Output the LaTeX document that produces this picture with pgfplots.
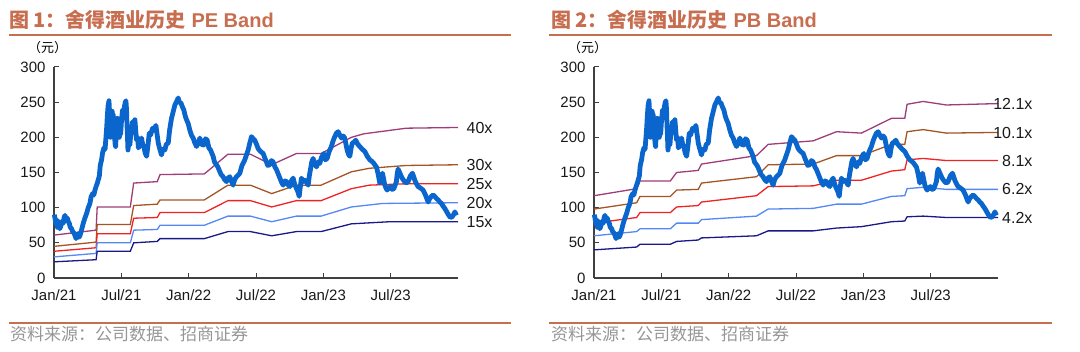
\documentclass[border=0pt]{standalone}
\usepackage{pgfplots}
\usepackage{pgfplotstable}
\pgfplotsset{compat=1.18}
\usepackage{fontspec}
\setmainfont{Liberation Sans}
\newfontfamily\cjk{Noto Sans CJK SC}
\definecolor{titlec}{RGB}{200,110,80}
\definecolor{srcgray}{RGB}{150,150,150}
\definecolor{priceblue}{RGB}{10,102,205}
\definecolor{bandpurple}{RGB}{160,60,120}
\definecolor{bandbrown}{RGB}{165,85,35}
\definecolor{bandred}{RGB}{240,35,35}
\definecolor{bandlblue}{RGB}{85,135,245}
\definecolor{bandnavy}{RGB}{25,25,135}

\pgfplotstableread{
m p
0.03 90
0.10 84
0.18 76
0.25 82
0.30 72
0.38 78
0.45 80
0.52 70
0.59 73
0.70 80
0.83 78
0.90 86
0.98 89
1.08 84
1.19 85
1.28 80
1.36 78
1.45 72
1.57 70
1.66 66
1.78 64
1.88 60
1.96 56
2.05 61
2.14 63
2.22 58
2.31 60
2.45 68
2.61 78
2.75 85
2.91 92
3.05 100
3.20 106
3.30 115
3.44 120
3.55 118
3.65 125
3.75 130
3.86 135
3.95 140
4.04 145
4.12 160
4.24 168
4.33 178
4.45 185
4.55 183
4.63 200
4.70 215
4.75 230
4.82 245
4.90 252
4.95 235
4.99 220
5.03 200
5.07 210
5.13 225
5.19 237
5.24 225
5.28 232
5.34 215
5.40 200
5.45 190
5.49 187
5.56 210
5.64 227
5.70 220
5.76 215
5.82 200
5.88 210
5.94 205
6.00 220
6.05 230
6.11 239
6.20 235
6.29 245
6.35 250
6.41 252
6.46 240
6.50 220
6.55 200
6.59 182
6.65 190
6.71 195
6.77 190
6.82 201
6.90 210
7.00 222
7.10 218
7.21 225
7.28 210
7.36 196
7.45 200
7.52 185
7.60 187
7.70 195
7.80 199
7.90 190
8.01 187
8.12 178
8.25 173
8.35 185
8.49 206
8.60 203
8.78 213
8.90 210
9.08 217
9.18 205
9.29 192
9.40 185
9.58 175
9.70 183
9.88 182
10.00 190
10.18 192
10.30 210
10.47 227
10.60 235
10.77 246
10.90 250
11.07 256
11.15 250
11.31 249
11.45 243
11.57 239
11.70 230
11.81 225
11.95 220
12.11 210
12.25 203
12.40 199
12.55 192
12.70 187
12.85 192
13.00 199
13.15 190
13.35 189
13.50 198
13.65 196
13.80 185
13.95 182
14.05 178
14.18 173
14.30 165
14.48 161
14.60 158
14.78 151
14.90 147
15.07 144
15.20 140
15.37 137
15.50 142
15.67 144
15.80 138
15.96 132
16.10 140
16.26 144
16.40 146
16.56 149
16.75 160
17.00 168
17.15 175
17.30 182
17.45 192
17.60 201
17.75 198
17.89 196
18.05 190
18.19 184
18.40 180
18.64 177
18.80 170
18.93 165
19.05 160
19.23 161
19.38 167
19.53 165
19.68 158
19.83 154
19.98 148
20.13 142
20.28 136
20.42 132
20.58 138
20.72 137
20.88 132
21.02 130
21.15 138
21.31 142
21.45 133
21.61 127
21.75 122
21.85 116
21.95 130
22.05 142
22.20 137
22.35 139
22.50 136
22.65 132
22.75 145
22.85 154
22.97 165
23.09 170
23.25 162
23.39 158
23.55 165
23.68 163
23.85 172
24.04 177
24.18 168
24.34 170
24.52 180
24.72 187
24.87 195
25.02 201
25.17 206
25.32 208
25.47 203
25.62 199
25.77 202
25.91 199
26.02 190
26.12 182
26.24 176
26.36 173
26.48 185
26.59 192
26.74 193
26.89 196
27.07 190
27.25 187
27.47 183
27.69 180
27.92 173
28.14 168
28.32 166
28.50 163
28.62 160
28.73 158
28.88 148
29.03 135
29.15 142
29.27 149
29.38 140
29.48 132
29.58 128
29.68 125
29.83 128
29.98 130
30.13 126
30.28 127
30.40 132
30.51 137
30.58 148
30.66 155
30.80 150
30.96 144
31.10 140
31.25 137
31.40 135
31.55 137
31.75 145
31.94 149
32.05 144
32.15 139
32.30 134
32.44 130
32.65 128
32.89 125
33.10 118
33.34 108
33.48 113
33.63 116
33.78 118
33.93 116
34.08 113
34.23 111
34.38 108
34.52 106
34.68 102
34.82 99
35.00 94
35.18 89
35.33 86
35.48 87
35.60 90
35.72 94
35.86 89
}\pricetab

\tikzset{
  band/.style={line width=1.3bp},
  lab/.style={anchor=east, font=\fontsize{16bp}{18bp}\selectfont, text=black!90},
}
\pgfplotsset{bandaxis/.style={
  scale only axis, width=404bp, height=211bp,
  xmin=0, xmax=36, ymin=0, ymax=300,
  axis x line*=bottom, axis y line*=left,
  axis line style={-, line width=1.1bp, color=black!75},
  xtick={0,6,12,18,24,30},
  xticklabels={Jan/21,Jul/21,Jan/22,Jul/22,Jan/23,Jul/23},
  ytick={0,50,100,150,200,250,300},
  tick align=inside, major tick length=5bp,
  tick style={line width=1bp, color=black!75},
  ticklabel style={font=\fontsize{15bp}{18bp}\selectfont, text=black!90},
  /pgf/number format/assume math mode=true,
  xticklabel style={yshift=-8bp},
  yticklabel style={xshift=-5bp},
  clip=false,
}}

\begin{document}
\begin{tikzpicture}
\path[use as bounding box] (0,0) rectangle (1080bp,352bp);

% titles and rules
\node[anchor=west, inner sep=0pt, text=titlec, font=\fontsize{20bp}{22bp}\selectfont\bfseries] at (9bp,332bp) {{\cjk 图 1：舍得酒业历史} PE Band};
\node[anchor=west, inner sep=0pt, text=titlec, font=\fontsize{20bp}{22bp}\selectfont\bfseries] at (551bp,332bp) {{\cjk 图 2：舍得酒业历史} PB Band};
\draw[titlec, line width=2bp] (9bp,317bp) -- (511bp,317bp);
\draw[titlec, line width=2bp] (549bp,317bp) -- (1052bp,317bp);
\node[anchor=west, inner sep=0pt, font=\fontsize{13bp}{15bp}\selectfont\cjk] at (28bp,304bp) {（元）};
\node[anchor=west, inner sep=0pt, font=\fontsize{13bp}{15bp}\selectfont\cjk] at (568bp,304bp) {（元）};
\draw[titlec, line width=2bp] (9bp,29bp) -- (511bp,29bp);
\draw[titlec, line width=2bp] (549bp,29bp) -- (1052bp,29bp);
\node[anchor=west, inner sep=0pt, text=srcgray, font=\fontsize{17bp}{19bp}\selectfont\cjk] at (10bp,18bp) {资料来源：公司数据、招商证券};
\node[anchor=west, inner sep=0pt, text=srcgray, font=\fontsize{17bp}{19bp}\selectfont\cjk] at (551bp,18bp) {资料来源：公司数据、招商证券};

% PE band
\begin{axis}[bandaxis, at={(54bp,74bp)}, anchor=south west]
\addplot[band, bandpurple] coordinates {(0,61) (3.75,68) (3.85,101) (6.8,101) (7.1,135) (9.2,137) (9.45,147) (13.4,148) (15.5,176) (17.5,176) (19.4,161) (21.6,177) (23.8,177) (26.5,200) (27.6,205) (31.4,213) (36,214)};
\addplot[band, bandbrown] coordinates {(0,45) (3.75,51) (3.85,76) (6.8,76) (7.1,103) (9.2,105) (9.45,111) (13.4,111) (15.5,132) (17.5,132) (19.4,120) (21.6,132) (23.8,132) (26.5,151) (28.1,156) (31.4,160) (36,161)};
\addplot[band, bandred] coordinates {(0,38) (3.75,43) (3.85,63) (6.8,63) (7.1,85) (9.2,86) (9.45,93) (13.4,93) (15.5,110) (17.5,110) (19.4,101) (21.6,110) (23.8,110) (26.5,127) (28.1,132) (31.4,134) (36,134)};
\addplot[band, bandlblue] coordinates {(0,30) (3.75,35) (3.85,50) (6.8,50) (7.1,68) (9.2,69) (9.45,75) (13.4,75) (15.5,88) (17.5,88) (19.4,80) (21.6,88) (23.8,88) (26.5,101) (29.3,106) (36,107)};
\addplot[band, bandnavy] coordinates {(0,23) (3.75,26) (3.85,38) (6.8,38) (7.1,50) (9.2,52) (9.45,56) (13.4,56) (15.5,66) (17.5,66) (19.4,60) (21.6,66) (23.8,66) (26.5,77) (29.9,80) (36,80)};
\addplot[priceblue, line width=4.8bp, line join=round] table[x=m, y=p] {\pricetab};
\node[lab] at (axis cs:36,213) [xshift=38bp] {40x};
\node[lab] at (axis cs:36,160) [xshift=38bp] {30x};
\node[lab] at (axis cs:36,133) [xshift=38bp] {25x};
\node[lab] at (axis cs:36,106) [xshift=38bp] {20x};
\node[lab] at (axis cs:36,80) [xshift=38bp] {15x};
\end{axis}

% PB band
\begin{axis}[bandaxis, at={(594bp,74bp)}, anchor=south west]
\addplot[band, bandpurple] coordinates {(0,117) (3.8,127) (4.1,138) (6.8,138) (7.36,150) (9.29,153) (9.58,162) (14.48,174) (15.52,190) (19.53,195) (21.61,208) (23.83,206) (26.5,227) (27.69,227) (27.9,247) (29.33,251) (31.4,246) (36,248)};
\addplot[band, bandbrown] coordinates {(0,98) (3.8,107) (4.1,116) (6.8,116) (7.36,125) (9.29,126) (9.58,135) (14.48,144) (15.52,161) (19.53,162) (21.61,174) (23.83,174) (26.5,190) (27.69,190) (27.9,208) (29.33,211) (31.4,206) (36,207)};
\addplot[band, bandred] coordinates {(0,78) (3.8,86) (4.1,93) (6.8,93) (7.36,101) (9.29,103) (9.58,108) (14.48,117) (15.52,130) (19.53,131) (21.61,139) (23.83,139) (26.5,152) (27.69,154) (27.9,168) (29.33,170) (31.4,167) (36,167)};
\addplot[band, bandlblue] coordinates {(0,60) (3.8,66) (4.1,70) (6.8,70) (7.36,78) (9.29,78) (9.58,83) (14.48,88) (15.52,98) (19.53,99) (21.61,105) (23.83,105) (26.5,116) (27.69,117) (27.9,127) (29.33,129) (31.4,126) (36,126)};
\addplot[band, bandnavy] coordinates {(0,40) (3.8,44) (4.1,48) (6.8,48) (7.36,52) (9.29,54) (9.58,57) (14.48,60) (15.52,67) (19.53,67) (21.61,71) (23.83,73) (26.5,80) (27.69,81) (27.9,87) (29.33,88) (31.4,86) (36,86)};
\addplot[priceblue, line width=4.8bp, line join=round] table[x=m, y=p] {\pricetab};
\node[lab] at (axis cs:36,247) [xshift=38bp] {12.1x};
\node[lab] at (axis cs:36,206) [xshift=38bp] {10.1x};
\node[lab] at (axis cs:36,166) [xshift=38bp] {8.1x};
\node[lab] at (axis cs:36,126) [xshift=38bp] {6.2x};
\node[lab] at (axis cs:36,86) [xshift=38bp] {4.2x};
\end{axis}
\end{tikzpicture}
\end{document}
